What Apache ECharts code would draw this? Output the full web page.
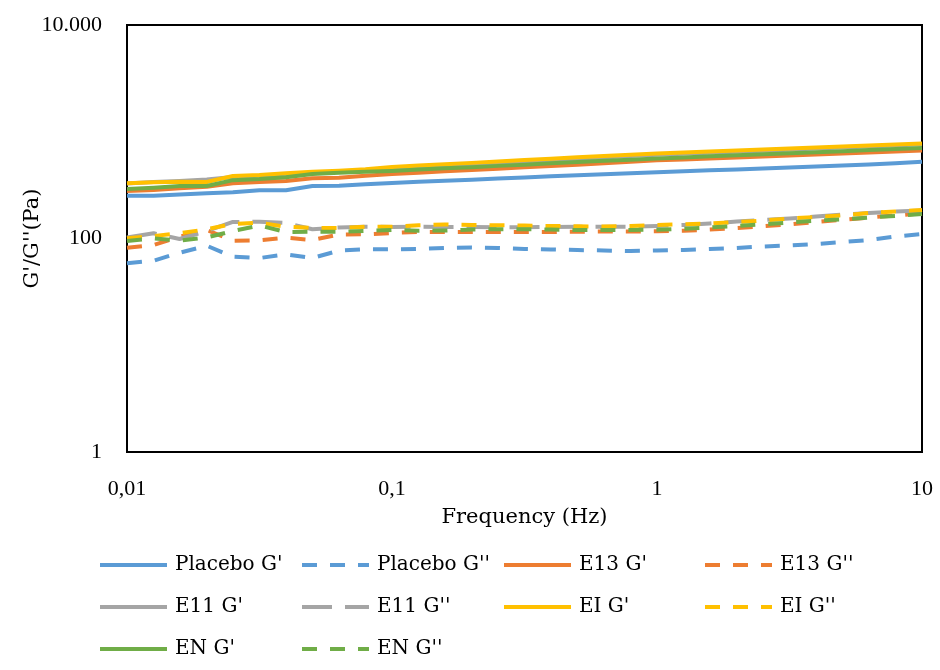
<!DOCTYPE html>
<html>
<head>
<meta charset="utf-8">
<script src="https://cdn.jsdelivr.net/npm/echarts@6/dist/echarts.min.js"></script>
<style>html,body{margin:0;padding:0;background:#fff}#c{width:940px;height:670px}</style>
</head>
<body>
<div id="c"></div>
<script>
var freq = [0.01, 0.0126, 0.0158, 0.02, 0.0251, 0.0316, 0.0398, 0.0501, 0.0631, 0.0794, 0.1, 0.126, 0.158, 0.2, 0.251, 0.316, 0.398, 0.501, 0.631, 0.794, 1, 1.26, 1.58, 2, 2.51, 3.16, 3.98, 5.01, 6.31, 7.94, 10];
var placeboG1 = [252, 252, 259, 265, 271, 283, 283, 310, 312, 322, 331, 340, 348, 356, 365, 373, 382, 391, 399, 409, 418, 426, 435, 444, 453, 462, 472, 482, 493, 508, 524];
var placeboG2 = [58.6, 61.9, 73.6, 85.6, 67.5, 65.6, 71, 65.6, 77, 79.2, 79.2, 79.7, 81.5, 82.4, 81.5, 79.7, 78.9, 78.0, 77.2, 76.4, 77.2, 78.0, 79.7, 81.5, 84.2, 86.0, 88.8, 92.7, 96.8, 104.4, 110.2];
var e13G1 = [279, 285, 295, 306, 329, 338, 346, 366, 371, 388, 402, 414, 426, 438, 451, 464, 478, 492, 506, 523, 540, 551, 562, 574, 586, 598, 611, 624, 638, 652, 667];
var e13G2 = [82.0, 86.9, 104, 120.1, 95.4, 96.2, 101.7, 96.8, 109.0, 109.5, 112.6, 115.1, 115.1, 115.1, 115.1, 115.1, 115.1, 115.8, 116.3, 116.3, 116.8, 118.1, 121.4, 125.4, 130.1, 135.3, 142.8, 149.7, 157.3, 164.3, 172.2];
var e11G1 = [327, 338, 345, 357, 377, 388, 400, 413, 420, 436, 453, 467, 481, 496, 511, 526, 542, 558, 575, 592, 608, 622, 636, 650, 665, 680, 695, 711, 727, 745, 765];
var e11G2 = [102.2, 111.9, 98.9, 117.6, 142.8, 143.7, 139.8, 122.0, 126.8, 129.0, 128.2, 129.0, 128.2, 128.2, 127.3, 127.3, 128.2, 129.0, 129.0, 129.0, 130.9, 133.8, 138.2, 144.3, 149.1, 153.9, 160.7, 167.8, 173.4, 179.0, 182.9];
var eiG1 = [329, 336, 340, 338, 385, 393, 408, 423, 432, 445, 468, 482, 497, 511, 527, 543, 559, 576, 593, 610, 626, 640, 654, 668, 683, 698, 713, 729, 745, 760, 776];
var eiG2 = [100.4, 105.5, 111.9, 122.0, 136.7, 140.6, 129.0, 125.4, 125.4, 129.0, 129.0, 133.0, 135.3, 133.8, 133.0, 132.4, 130.9, 130.1, 129.5, 130.9, 133.8, 135.8, 138.2, 142.8, 147.4, 153.9, 159.0, 164.3, 173.4, 179.0, 184.9];
var enG1 = [291, 299, 310, 310, 352, 360, 374, 402, 413, 423, 430, 442, 454, 466, 479, 492, 506, 520, 534, 548, 562, 575, 588, 601, 615, 629, 643, 658, 673, 688, 704];
var enG2 = [94.8, 100, 95.4, 102.2, 117.6, 132.4, 115.1, 115.8, 115.8, 117.6, 120.1, 118.3, 118.8, 121.4, 122.0, 122.0, 121.4, 120.1, 120.1, 120.1, 120.9, 123.5, 126.8, 130.9, 135.8, 141.2, 146.8, 151.3, 157.3, 162.5, 169.7];
var seriesNames = ["Placebo G'", "Placebo G''", "E13 G'", "E13 G''", "E11 G'", "E11 G''", "EI G'", "EI G''", "EN G'", "EN G''"];
var seriesValues = [placeboG1, placeboG2, e13G1, e13G2, e11G1, e11G2, eiG1, eiG2, enG1, enG2];

var colors = ['#5B9BD5', '#5B9BD5', '#ED7D31', '#ED7D31', '#A5A5A5', '#A5A5A5', '#FFC000', '#FFC000', '#70AD47', '#70AD47'];
var dashes = ['solid', [15, 13], 'solid', [15, 13], 'solid', [30, 13], 'solid', [15, 13], 'solid', [15, 13]];
var legendPos = [[98, 566], [300, 566], [502, 566], [703, 566], [98, 608], [300, 608], [502, 608], [703, 608], [98, 650], [300, 650]];

var serifNum = "'Liberation Serif', serif";
var serifTxt = "'DejaVu Serif', serif";

var series = seriesNames.map(function (n, k) {
  return {
    name: n,
    type: 'line',
    symbol: 'none',
    showSymbol: false,
    animation: false,
    data: freq.map(function (f, i) { return [f, seriesValues[k][i]]; }),
    lineStyle: { color: colors[k], width: 4, type: dashes[k], cap: 'butt', join: 'round' },
    itemStyle: { color: colors[k] }
  };
});

var legends = seriesNames.map(function (n, k) {
  return {
    data: [n],
    left: legendPos[k][0],
    top: legendPos[k][1] - 11,
    padding: 0,
    itemWidth: 67,
    itemHeight: 14,
    itemStyle: { opacity: 0 },
    lineStyle: { width: 4, type: dashes[k], color: colors[k], cap: 'butt' },
    textStyle: { fontFamily: serifTxt, fontSize: 20, color: '#000', padding: [0, 0, 0, 3] }
  };
});

function fmtX(v) {
  var s = String(Number(v.toPrecision(6)));
  return s.replace('.', ',');
}
function fmtY(v) {
  var n = Math.round(v);
  return String(n).replace(/\B(?=(\d{3})+(?!\d))/g, '.');
}

var chart = echarts.init(document.getElementById('c'), null, { renderer: 'canvas' });
chart.setOption({
  backgroundColor: '#fff',
  animation: false,
  grid: { left: 127, right: 18, top: 25, bottom: 218, show: true, borderColor: '#000', borderWidth: 2, backgroundColor: 'transparent' },
  legend: legends,
  xAxis: {
    type: 'log', logBase: 10, min: 0.01, max: 10,
    name: 'Frequency (Hz)', nameLocation: 'middle', nameGap: 55,
    nameTextStyle: { fontFamily: serifTxt, fontSize: 21, color: '#000' },
    axisLine: { show: true, lineStyle: { color: '#000', width: 2 } },
    axisTick: { show: false },
    splitLine: { show: false },
    minorTick: { show: false },
    axisLabel: { formatter: fmtX, margin: 26, fontFamily: serifNum, fontSize: 22, color: '#000' }
  },
  yAxis: {
    type: 'log', logBase: 100, min: 1, max: 10000,
    name: "G'/G''(Pa)", nameLocation: 'middle', nameGap: 84, nameMoveOverlap: false,
    nameTextStyle: { fontFamily: serifTxt, fontSize: 21, color: '#000' },
    axisLine: { show: true, lineStyle: { color: '#000', width: 2 } },
    axisTick: { show: false },
    splitLine: { show: false },
    axisLabel: { formatter: fmtY, margin: 25, fontFamily: serifNum, fontSize: 22, color: '#000' }
  },
  series: series
});
</script>
</body>
</html>
